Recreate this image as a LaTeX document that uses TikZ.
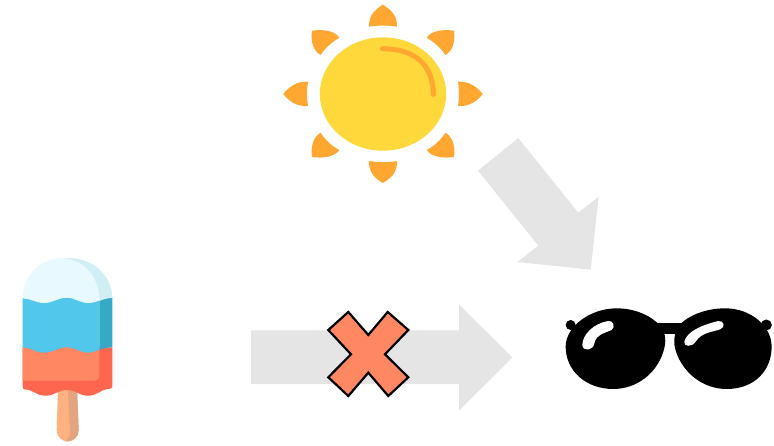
\documentclass[tikz,border=0pt]{standalone}
\usetikzlibrary{calc}
\definecolor{arrowgrey}{HTML}{E5E5E5}
\definecolor{sunyellow}{HTML}{FFD93B}
\definecolor{sunorange}{HTML}{FFA730}
\definecolor{icewhite}{HTML}{E8F9FF}
\definecolor{iceshade}{HTML}{D0EEF6}
\definecolor{iceblue}{HTML}{52C7EC}
\definecolor{iceblued}{HTML}{36A9C7}
\definecolor{iceorange}{HTML}{FF8863}
\definecolor{icered}{HTML}{FF6650}
\definecolor{stickc}{HTML}{FFB27F}
\definecolor{sticks}{HTML}{E3A57F}
\tikzset{
  bigarrow/.style={fill=arrowgrey,draw=none},
  sunray/.style={fill=sunorange,draw=none},
  crossmark/.style={fill=iceorange,draw=black,line width=2.2pt,line join=miter},
}
\begin{document}
\begin{tikzpicture}[x=1pt,y=-1pt]
\useasboundingbox (0,0) rectangle (774,446);
% grey arrows
\fill[bigarrow] (251,330.3) -- (459,330.3) -- (459,304.3) -- (512.3,357.5) -- (459,410.7) -- (459,384) -- (251,384) -- cycle;
\fill[bigarrow] (518.3,138) -- (478,170.7) -- (538.3,245.7) -- (517.3,262) -- (590.7,269.7) -- (598.7,196.7) -- (578.3,212.7) -- cycle;
% cross
\draw[crossmark] (348.3,312) -- (368.3,335) -- (387.7,312) -- (408.3,330) -- (385,354.3) -- (408.3,377.3) -- (388.3,396) -- (368.3,372.7) -- (348.3,396) -- (328.3,377.3) -- (351,354.3) -- (328.3,330) -- cycle;
% sun
\fill[sunyellow] (383,94) ellipse [x radius=63.2, y radius=56.7];
\draw[sunorange,line width=5pt,line cap=round] (382.3,48.7) .. controls (415,48.7) and (433.3,65) .. (433.3,94.3);
\fill[sunray] (369,26.7) .. controls (368.5,15) and (376,9) .. (382.7,4.7) .. controls (390,9) and (397.5,15) .. (397,26.7) .. controls (388,25.2) and (378,25.2) .. cycle;
\fill[sunray] (369,161) .. controls (368.5,173) and (376,179) .. (382.7,183) .. controls (390,179) and (397.5,173) .. (397,161) .. controls (388,162.5) and (378,162.5) .. cycle;
\fill[sunray] (308,81.7) .. controls (296,81) and (288,88) .. (283.3,94) .. controls (288,100) and (296,107) .. (308,106) .. controls (306.7,98) and (306.7,90) .. cycle;
\fill[sunray] (458,81.7) .. controls (470,81) and (478,88) .. (482.7,94) .. controls (478,100) and (470,107) .. (458,106) .. controls (459.3,98) and (459.3,90) .. cycle;
\fill[sunray] (312,30.7) .. controls (324,29) and (335,31) .. (339.3,37.7) .. controls (332,42) and (325,48) .. (320.7,55) .. controls (313,51) and (310.5,41) .. cycle;
\fill[sunray] (454,30.7) .. controls (442,29) and (431,31) .. (426.7,37.7) .. controls (434,42) and (441,48) .. (445.3,55) .. controls (453,51) and (455.5,41) .. cycle;
\fill[sunray] (312,157) .. controls (324,158.7) and (335,156.5) .. (339.3,150) .. controls (332,146) and (325,140) .. (320.7,132.7) .. controls (313,137) and (310.5,147) .. cycle;
\fill[sunray] (454,157) .. controls (442,158.7) and (431,156.5) .. (426.7,150) .. controls (434,146) and (441,140) .. (445.3,132.7) .. controls (453,137) and (455.5,147) .. cycle;
% popsicle stick
\fill[stickc] (58,388) -- (77,388) -- (78.7,430) .. controls (78.7,437) and (73.5,441.5) .. (67.7,441.5) .. controls (62,441.5) and (56.7,437) .. (56.7,430) -- cycle;
\fill[sticks] (67.7,388) -- (77,388) -- (78.7,430) .. controls (78.7,437) and (73.5,441.5) .. (65,441.5) .. controls (69.5,438) and (70,434) .. (70,430) -- cycle;
% popsicle bottom (red)
\fill[icered] (22.7,347.3) -- (112.3,347.3) -- (112.3,387) .. controls (112.3,389) and (110,388.5) .. (108,389) .. controls (100,390) and (97,395.7) .. (88,395.7) .. controls (79,395.7) and (76,390) .. (66.7,390) .. controls (58,390) and (55,395.7) .. (45.5,395.7) .. controls (36,395.7) and (33,389.5) .. (25,389.5) .. controls (23,389.5) and (22.7,388) .. (22.7,386) -- cycle;
% orange main
\fill[iceorange] (22.7,347.3) .. controls (30,347.3) and (36,352.7) .. (44,352.7) .. controls (53,352.7) and (58,347.3) .. (66.7,347.3) .. controls (75,347.3) and (80,352.7) .. (88,352.7) .. controls (92,352.7) and (96,351) .. (99.3,349.8) -- (99.3,375.5) .. controls (99.3,379) and (97,380.7) .. (94,380.7) -- (22.7,380.7) -- cycle;
% blue
\fill[iceblue] (22.7,298) -- (99.3,298) -- (99.3,349.8) .. controls (96,351) and (92,352.7) .. (88,352.7) .. controls (80,352.7) and (75,347.3) .. (66.7,347.3) .. controls (58,347.3) and (53,352.7) .. (44,352.7) .. controls (36,352.7) and (30,347.3) .. (22.7,347.3) -- cycle;
\fill[iceblued] (99.3,298) -- (112.3,298) -- (112.3,347.3) .. controls (107,347.3) and (103,348.5) .. (99.3,349.8) -- cycle;
% dome
\fill[iceshade] (63,258) .. controls (93,256) and (112.3,276) .. (112.3,298) .. controls (107,298) and (103,299.5) .. (99.3,301) -- cycle;
\fill[icewhite] (22.7,298.3) .. controls (22.7,276) and (40,258) .. (63,258) .. controls (84,260) and (99.3,276) .. (99.3,300.5) .. controls (96,302) and (92,303) .. (88,303) .. controls (80,303) and (75,297.7) .. (66.7,297.7) .. controls (58,297.7) and (53,303) .. (44,303) .. controls (36,303) and (30,298.3) .. (22.7,298.3) -- cycle;
% sunglasses, in units of a third of a pixel
\begin{scope}[shift={(555,295)},x=0.3333pt,y=-0.3333pt]
\fill[black] (47,90) circle [radius=5pt];
\fill[black] (634,90) circle [radius=5.5pt];
\fill[black] (300,85) rectangle (390,118);
\fill[black] (185,40) .. controls (240,40) and (290,62) .. (318,95) .. controls (332,115) and (335,140) .. (325,170) .. controls (305,235) and (245,282) .. (175,282) .. controls (90,282) and (32,225) .. (32,155) .. controls (32,95) and (105,40) .. (185,40) -- cycle;
\fill[black] (510,40) .. controls (455,40) and (400,60) .. (372,92) .. controls (358,115) and (353,140) .. (363,170) .. controls (385,235) and (445,282) .. (515,282) .. controls (600,282) and (650,225) .. (650,155) .. controls (650,95) and (590,40) .. (510,40) -- cycle;
\fill[white] (82,150) .. controls (82,120) and (115,85) .. (160,78) .. controls (175,76) and (182,95) .. (170,105) .. controls (150,115) and (125,115) .. (118,145) .. controls (115,168) and (82,170) .. (82,150) -- cycle;
\fill[white] (388,140) .. controls (395,110) and (440,90) .. (490,78) .. controls (508,76) and (512,98) .. (495,103) .. controls (470,112) and (440,112) .. (422,140) .. controls (410,158) and (385,155) .. (388,140) -- cycle;
\end{scope}
\end{tikzpicture}
\end{document}
